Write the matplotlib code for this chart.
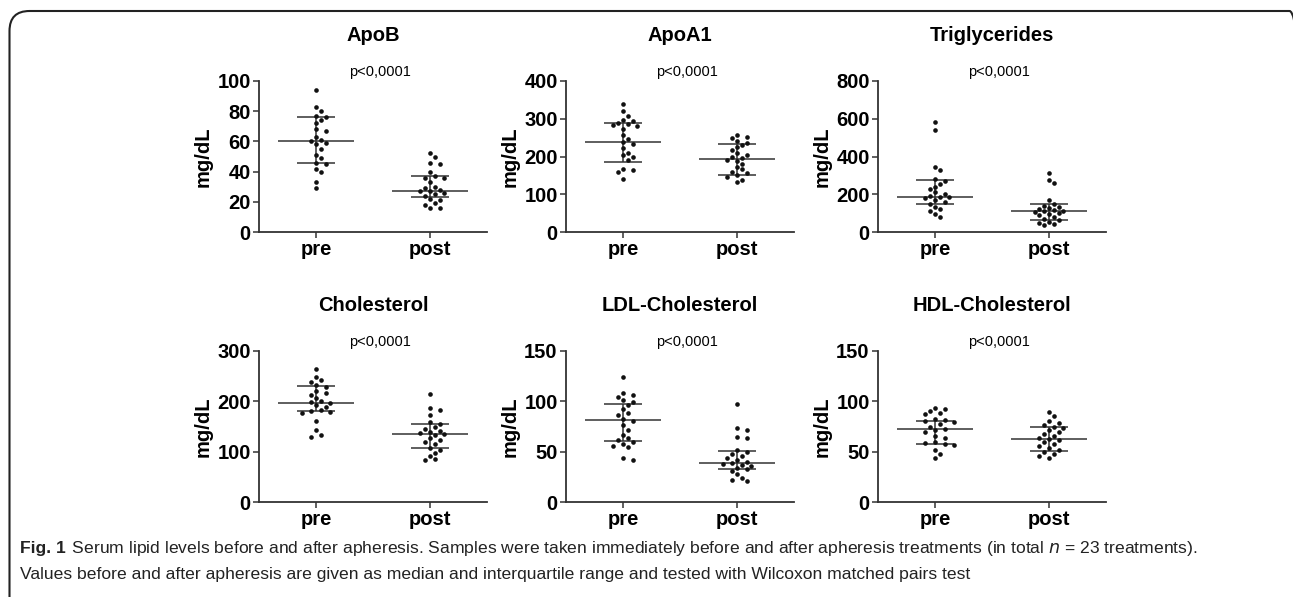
import matplotlib
matplotlib.use("Agg")
import matplotlib.pyplot as plt
from matplotlib.patches import FancyBboxPatch
import numpy as np

plt.rcParams['font.family'] = ['Liberation Sans', 'DejaVu Sans']

# ---- data ----
titles = ["ApoB", "ApoA1", "Triglycerides", "Cholesterol", "LDL-Cholesterol", "HDL-Cholesterol"]
groups = ["pre", "post"]
y_max = [100, 400, 800, 300, 150, 150]
y_step = [20, 100, 200, 100, 50, 50]
p_text = "p<0,0001"

apob_pre = [94, 83, 80, 77, 76, 74, 72, 68, 67, 63, 61, 60, 59, 58, 55, 51, 49, 46, 45, 42, 40, 33, 29]
apob_post = [52, 50, 46, 45, 40, 37, 36, 36, 33, 30, 29, 28, 27, 27, 26, 25, 24, 22, 21, 19, 18, 16, 16]
apoa1_pre = [338, 320, 307, 296, 293, 290, 287, 284, 282, 274, 258, 247, 238, 234, 222, 210, 203, 200, 192, 166, 163, 158, 140]
apoa1_post = [256, 252, 248, 240, 236, 230, 224, 218, 210, 205, 200, 196, 192, 188, 180, 172, 166, 160, 156, 150, 145, 138, 132]
tg_pre = [582, 540, 345, 326, 280, 270, 255, 240, 228, 210, 200, 192, 188, 185, 178, 170, 160, 150, 135, 120, 110, 95, 80]
tg_post = [315, 275, 262, 172, 150, 140, 133, 128, 122, 116, 112, 110, 106, 100, 95, 90, 80, 70, 62, 55, 48, 40, 35]
chol_pre = [264, 249, 242, 238, 232, 228, 220, 216, 212, 206, 200, 198, 196, 192, 188, 182, 180, 178, 176, 161, 143, 133, 130]
chol_post = [214, 186, 182, 172, 158, 155, 150, 146, 142, 140, 138, 136, 133, 128, 124, 120, 116, 108, 104, 98, 92, 86, 84]
ldl_pre = [124, 108, 106, 104, 101, 99, 96, 92, 88, 86, 82, 80, 76, 72, 67, 64, 62, 60, 58, 56, 55, 44, 42]
ldl_post = [97, 74, 72, 65, 64, 52, 50, 48, 46, 44, 42, 40, 39, 38, 37, 36, 34, 33, 31, 28, 24, 22, 21]
hdl_pre = [93, 92, 90, 88, 87, 82, 81, 80, 79, 77, 75, 73, 72, 70, 66, 64, 60, 59, 58, 57, 52, 48, 44]
hdl_post = [89, 85, 80, 78, 76, 75, 74, 72, 70, 68, 66, 64, 63, 62, 60, 58, 56, 54, 52, 50, 48, 46, 44]

# median, 25th and 75th percentile (pre, post) as drawn
medians = [(60, 27), (238, 194), (187, 112), (197, 136), (81, 39), (73, 63)]
q1 = [(46, 23), (185, 150), (148, 65), (180, 107), (61, 33), (58, 51)]
q3 = [(76, 37), (290, 232), (274, 147), (230, 155), (97.5, 51), (80, 75)]

values = [(apob_pre, apob_post), (apoa1_pre, apoa1_post), (tg_pre, tg_post),
          (chol_pre, chol_post), (ldl_pre, ldl_post), (hdl_pre, hdl_post)]

caption_bold = "Fig. 1"
caption_1 = (" Serum lipid levels before and after apheresis. Samples were taken immediately before and after "
             "apheresis treatments (in total $n$ = 23 treatments).")
caption_2 = ("Values before and after apheresis are given as median and interquartile range and tested with "
             "Wilcoxon matched pairs test")

W, H = 1293, 597
fig = plt.figure(figsize=(W / 100, H / 100), dpi=100)

col_left = [259, 566, 878]
row_top = [81, 351]
ax_w, ax_h = 228, 151
line_col = '#333333'
dot_d = 4.8  # dot diameter in pixels


def swarm_x(ax, xc, vals, d):
    """simple beeswarm: returns x positions (data units) avoiding overlap in pixel space"""
    pts = ax.transData.transform(np.column_stack([np.full(len(vals), xc), vals]))
    order = np.argsort(-np.asarray(vals))
    placed = []
    xs = np.zeros(len(vals))
    for i in order:
        px, py = pts[i]
        for k in range(0, 40):
            off = ((k + 1) // 2) * d * (1 if k % 2 else -1)
            cx = px + off
            if all((cx - qx) ** 2 + (py - qy) ** 2 >= (d * 1.1) ** 2 for qx, qy in placed):
                break
        placed.append((cx, py))
        xs[i] = cx
    inv = ax.transData.inverted()
    return inv.transform(np.column_stack([xs, pts[:, 1]]))[:, 0]


for i, title in enumerate(titles):
    r, c = divmod(i, 3)
    ax = fig.add_axes([col_left[c] / W, 1 - (row_top[r] + ax_h) / H, ax_w / W, ax_h / H])
    ax.set_xlim(-0.5, 1.5)
    ax.set_ylim(0, y_max[i])
    ax.set_yticks(np.arange(0, y_max[i] + 1, y_step[i]))
    ax.set_xticks([0, 1])
    ax.set_xticklabels(groups)
    for s in ['top', 'right']:
        ax.spines[s].set_visible(False)
    for s in ['left', 'bottom']:
        ax.spines[s].set_linewidth(1.3)
        ax.spines[s].set_color(line_col)
    ax.tick_params(axis='both', direction='out', length=4, width=1.1, color=line_col,
                   labelsize=14.5, pad=2)
    for lab in ax.get_xticklabels() + ax.get_yticklabels():
        lab.set_fontweight('bold')
    ax.set_ylabel("mg/dL", fontsize=14.5, fontweight='bold', labelpad=3)
    ax.text(0.5, 1.30, title, transform=ax.transAxes, ha='center', va='center',
            fontsize=14.5, fontweight='bold')
    ax.text(0.53, 1.06, p_text, transform=ax.transAxes, ha='center', va='center', fontsize=10.5)

    for g in range(2):
        vals = values[i][g]
        xs = swarm_x(ax, g, vals, dot_d)
        ax.scatter(xs, vals, s=11, color='#111111', zorder=3, linewidths=0)
        ax.hlines(medians[i][g], g - 0.33, g + 0.33, color=line_col, lw=1.1, zorder=2)
        ax.hlines([q1[i][g], q3[i][g]], g - 0.165, g + 0.165, color=line_col, lw=1.1, zorder=2)
        ax.vlines(g, q1[i][g], q3[i][g], color=line_col, lw=1.1, zorder=2)

# frame around the figure (right side runs off the page)
frame = FancyBboxPatch((0.095, -0.3), 13.0, 5.86 + 0.3, boxstyle="round,pad=0,rounding_size=0.2",
                       transform=fig.dpi_scale_trans, facecolor='none', edgecolor='#222222', lw=1.5,
                       clip_on=False)
fig.add_artist(frame)

# caption
cap_font = ['Liberation Sans Narrow', 'Liberation Sans', 'DejaVu Sans']
t1 = fig.text(20 / W, 1 - 549 / H, caption_bold, fontsize=12.6, fontweight='bold', family=cap_font,
              va='center', ha='left', color='#222222')
fig.canvas.draw()
bb = t1.get_window_extent()
fig.text((bb.x1 + 1) / W, 1 - 549 / H, caption_1, fontsize=12.6, family=cap_font, va='center', ha='left',
         color='#222222')
fig.text(20 / W, 1 - 574 / H, caption_2, fontsize=12.6, family=cap_font, va='center', ha='left',
         color='#222222')

fig.savefig("out.png", dpi=100)
